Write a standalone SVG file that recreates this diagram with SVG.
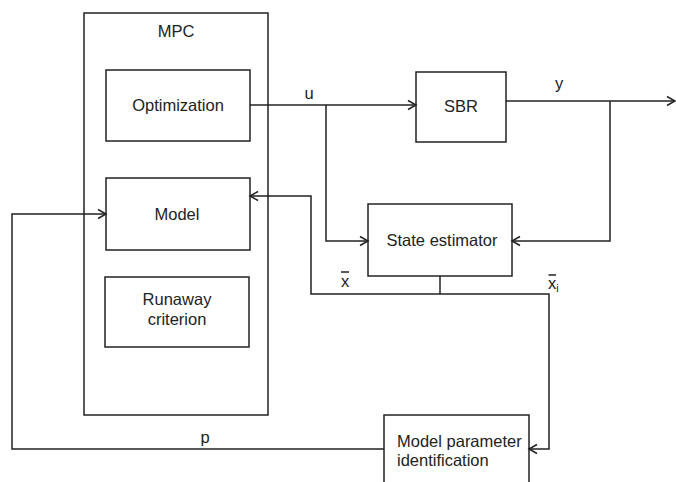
<svg xmlns="http://www.w3.org/2000/svg" width="676" height="482" viewBox="0 0 676 482">
<style>
.box{fill:#fff;stroke:#222;stroke-width:1.5}
.line{fill:none;stroke:#222;stroke-width:1.5}
text{font-family:"Liberation Sans",Arial,sans-serif;font-size:16.5px;fill:#222}
.c{text-anchor:middle}
</style>
<defs>
<marker id="arr" markerUnits="userSpaceOnUse" markerWidth="12" markerHeight="12" viewBox="0 0 12 12" refX="10" refY="6" orient="auto">
<path d="M2,1.5 L10,6 L2,10.5" fill="none" stroke="#222" stroke-width="1.5"/>
</marker>
</defs>
<rect width="676" height="482" fill="#fff"/>
<g id="mpc">
<rect class="box" x="84" y="13" width="184" height="402"/>
<text class="c" x="176" y="37">MPC</text>
</g>
<g id="optimization">
<rect class="box" x="106" y="70" width="144" height="71"/>
<text class="c" x="178" y="111">Optimization</text>
</g>
<g id="model">
<rect class="box" x="106" y="178" width="144" height="72"/>
<text class="c" x="177" y="220">Model</text>
</g>
<g id="runaway">
<rect class="box" x="105" y="277" width="144" height="70"/>
<text class="c" x="177" y="305">Runaway</text>
<text class="c" x="177" y="325">criterion</text>
</g>
<g id="sbr">
<rect class="box" x="416" y="72" width="90" height="70"/>
<text class="c" x="461" y="112">SBR</text>
</g>
<g id="state-estimator">
<rect class="box" x="368" y="204" width="144" height="72"/>
<text class="c" x="442" y="246">State estimator</text>
</g>
<g id="model-parameter-identification">
<rect class="box" x="384" y="415" width="145" height="80"/>
<text x="397" y="447">Model parameter</text>
<text x="397" y="466">identification</text>
</g>
<g id="connectors">
<path class="line" d="M250,105 H416" marker-end="url(#arr)"/>
<path class="line" d="M326,105 V241 H368" marker-end="url(#arr)"/>
<path class="line" d="M506,101 H675" marker-end="url(#arr)"/>
<path class="line" d="M610,101 V241 H512" marker-end="url(#arr)"/>
<path class="line" d="M440,276 V294"/>
<path class="line" d="M440,294 H311 V196 H250" marker-end="url(#arr)"/>
<path class="line" d="M440,294 H549 V449 H529" marker-end="url(#arr)"/>
<path class="line" d="M384,449 H12 V214 H106" marker-end="url(#arr)"/>
<text x="309" y="99" class="c">u</text>
<text x="559" y="89" class="c">y</text>
<text x="205" y="443" class="c">p</text>
<text x="345" y="287" class="c">x</text>
<path class="line" d="M341,272 H349" stroke-width="1.2"/>
<text x="548" y="289">x<tspan font-size="11" dy="3">i</tspan></text>
<path class="line" d="M548.5,275 H556" stroke-width="1.2"/>
</g>
</svg>
